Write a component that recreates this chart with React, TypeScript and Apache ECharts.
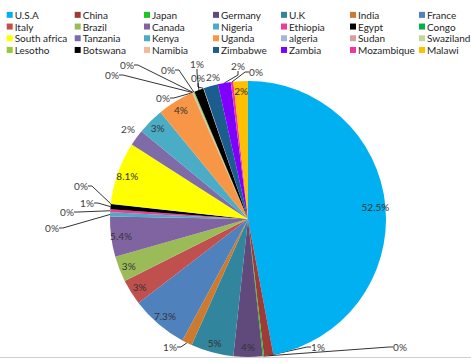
import React, { useEffect, useRef } from 'react';
import * as echarts from 'echarts';

const countries = ['U.S.A', 'China', 'Japan', 'Germany', 'U.K', 'India', 'France', 'Italy', 'Brazil', 'Canada', 'Nigeria', 'Ethiopia', 'Egypt', 'Congo', 'South africa', 'Tanzania', 'Kenya', 'Uganda', 'algeria', 'Sudan', 'Swaziland', 'Lesotho', 'Botswana', 'Namibia', 'Zimbabwe', 'Zambia', 'Mozambique', 'Malawi'];
const shares = [47.1, 1.1, 0.15, 3.4, 5.0, 1.2, 6.7, 3.0, 3.0, 4.7, 0.5, 0.35, 0.6, 0.05, 7.3, 1.9, 3.1, 4.3, 0.05, 0.05, 0.05, 0.15, 1.1, 0.05, 1.7, 1.5, 0.3, 1.7];
const labels = ['52.5%', '1%', '0%', '4%', '5%', '1%', '7.3%', '3%', '3%', '5.4%', '0%', '0%', '1%', '0%', '8.1%', '2%', '3%', '4%', '0%', '0%', '0%', '0%', '1%', '0%', '2%', '2%', '0%', '2%'];
const colors = ['#00B0F0', '#9E3B38', '#21C321', '#604A7B', '#31859C', '#CC7A30', '#4F81BD', '#C0504D', '#9BBB59', '#8064A2', '#4BACC6', '#EE3D96', '#000000', '#00B050', '#FFFF00', '#7E6BA7', '#4BACC6', '#F79646', '#A5B4DB', '#D4A0A0', '#C3D69B', '#9BC83A', '#000000', '#F4B99A', '#1B5E8E', '#7F00FF', '#F0359B', '#FFC000'];
const insideLabelled = ['U.S.A', 'Germany', 'U.K', 'France', 'Italy', 'Brazil', 'Canada', 'South africa', 'Kenya', 'Uganda', 'Malawi'];
const noLeader = ['Tanzania', 'Zimbabwe'];

// where the outside labels sit (text centre), as in the reference
const outsideSpots: Record<string, [number, number]> = {
  China: [318, 347],
  Japan: [400, 347],
  India: [170, 347],
  Nigeria: [52, 228],
  Ethiopia: [67, 212],
  Egypt: [87, 203],
  Congo: [81, 186],
  Tanzania: [128, 129],
  algeria: [163, 98],
  Sudan: [112, 75],
  Swaziland: [127, 65],
  Lesotho: [168, 70],
  Botswana: [197, 64],
  Namibia: [198, 78],
  Zimbabwe: [213, 77],
  Zambia: [238, 66],
  Mozambique: [256, 72],
};

const legendColX = [6.7, 74.7, 144, 213, 281, 350, 419];
const FONT = 'Lato, "Open Sans", sans-serif';

export default function App() {
  const ref = useRef<HTMLDivElement>(null);
  useEffect(() => {
    document.body.style.margin = '0';
    const chart = echarts.init(ref.current!, undefined, { renderer: 'svg' });
    const legends = legendColX.map((x, c) => ({
      orient: 'vertical',
      left: x,
      top: 9,
      padding: 0,
      itemGap: 0,
      itemWidth: 6,
      itemHeight: 6,
      icon: 'rect',
      selectedMode: false,
      textStyle: { fontFamily: FONT, fontSize: 10, color: '#262626', lineHeight: 11.7, padding: [0, 0, 0, -3] },
      data: countries.filter((_, i) => i % 7 === c),
    }));
    chart.setOption({
      animation: false,
      backgroundColor: '#ffffff',
      legend: legends,
      graphic: [
        { type: 'line', shape: { x1: 0, y1: 357.5, x2: 471, y2: 357.5 }, style: { stroke: '#D0D0D0', lineWidth: 1 }, z: -1 },
      ],
      series: [
        {
          type: 'pie',
          center: [248, 219],
          radius: 138,
          startAngle: 90,
          clockwise: true,
          avoidLabelOverlap: false,
          emphasis: { disabled: true },
          data: countries.map((n, i) => {
            const inside = insideLabelled.includes(n);
            return {
              name: n,
              value: shares[i],
              itemStyle: { color: colors[i] },
              label: { show: !inside },
              labelLine: { show: !inside && !noLeader.includes(n) },
            };
          }),
          label: {
            position: 'outside',
            formatter: (p: any) => labels[p.dataIndex],
            fontFamily: FONT,
            fontSize: 10,
            color: '#404040',
          },
          labelLine: { length: 5, length2: 4, lineStyle: { color: '#000', width: 0.8 } },
          labelLayout: (p: any) => {
            const spot = outsideSpots[countries[p.dataIndex]];
            if (!spot) return {};
            return { x: spot[0], y: spot[1], align: 'center', verticalAlign: 'middle' };
          },
        },
        {
          type: 'pie',
          center: [248, 219],
          radius: [112, 138],
          startAngle: 90,
          clockwise: true,
          silent: true,
          avoidLabelOverlap: false,
          emphasis: { disabled: true },
          itemStyle: { color: 'rgba(0,0,0,0)' },
          labelLine: { show: false },
          data: countries.map((n, i) => ({
            name: n,
            value: shares[i],
            label: { show: insideLabelled.includes(n) },
          })),
          label: {
            position: 'inside',
            formatter: (p: any) => labels[p.dataIndex],
            fontFamily: FONT,
            fontSize: 10,
            color: '#333',
          },
        },
      ],
    });
    return () => chart.dispose();
  }, []);
  return <div ref={ref} style={{ width: 471, height: 363 }} />;
}
